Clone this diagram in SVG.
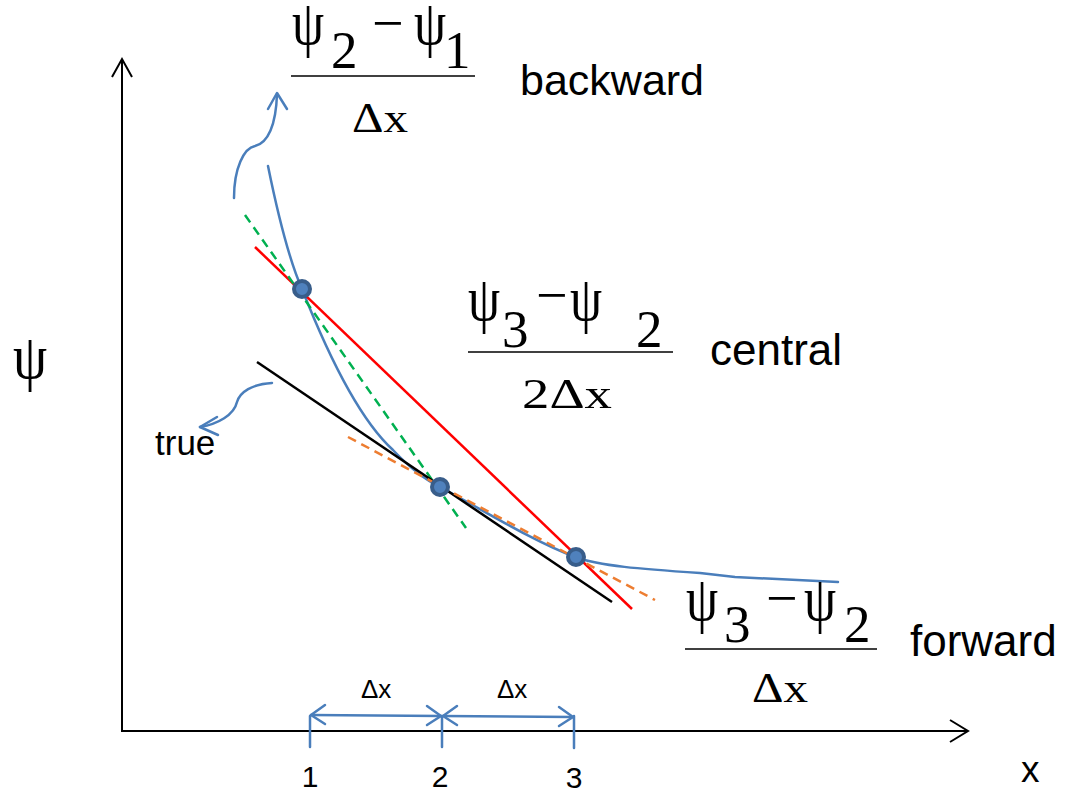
<svg xmlns="http://www.w3.org/2000/svg" width="1065" height="793" viewBox="0 0 1065 793">
<style>
.sans{font-family:"Liberation Sans",Arial,sans-serif;fill:#000}
.serif{font-family:"Liberation Serif","Times New Roman",serif;fill:#000}
.psi{font-family:"Liberation Serif","Times New Roman",serif;font-size:64px}
.dig{font-family:"Liberation Serif","Times New Roman",serif;font-size:53px}
.minus{font-family:"Liberation Serif","Times New Roman",serif;font-size:56px}
.den{font-family:"Liberation Serif","Times New Roman",serif;font-size:43px}
.bar{stroke:#000;stroke-width:1.5;fill:none}
.axis{stroke:#000;stroke-width:2;fill:none}
.blue{stroke:#4a7ebb;stroke-width:2.5;fill:none;stroke-linecap:round;stroke-linejoin:round}
.pt{fill:#4f81bd;stroke:#385d8a;stroke-width:4}
</style>
<rect width="1065" height="793" fill="#fff"/>
<g id="axes">
<line class="axis" x1="122" y1="60" x2="122" y2="731"/>
<polyline class="axis" points="112,77 122,59 132,77"/>
<line class="axis" x1="121" y1="731" x2="968" y2="731"/>
<polyline class="axis" points="950,720 968,731 950,742"/>
<text class="psi" transform="translate(13,378) scale(0.85,1)">ψ</text>
<text class="sans" x="1021" y="782" font-size="37">x</text>
</g>
<g id="curves">
<path class="blue" d="M268,166 C280,225 290,262 302,289 C330,360 360,420 393,450 C410,468 425,480 440,487 C480,508 530,540 575,557 C600,566 640,569 700,573 L735,577 L838,582"/>
<line x1="255" y1="247" x2="632" y2="609" stroke="#ff0000" stroke-width="2.5"/>
<line x1="245" y1="215" x2="466" y2="528" stroke="#00b050" stroke-width="2.5" stroke-dasharray="9,6"/>
<line x1="257" y1="362" x2="612" y2="602" stroke="#000" stroke-width="2.5"/>
<line x1="348" y1="437" x2="655" y2="600" stroke="#ed7d31" stroke-width="2.5" stroke-dasharray="9,6"/>
</g>
<g id="points">
<circle class="pt" cx="302" cy="289" r="8"/>
<circle class="pt" cx="440" cy="487" r="8"/>
<circle class="pt" cx="576" cy="557" r="8"/>
</g>
<g id="connectors">
<path class="blue" d="M234,198 C234,168 244,148 255,146 C268,143 276,125 277,94"/>
<polyline class="blue" points="268,109 277,93 287,109"/>
<path class="blue" d="M272,383 C252,384 240,392 237,402 C234,415 218,424 200,427"/>
<polyline class="blue" points="217,417 200,427 218,435"/>
</g>
<g id="dims">
<line class="blue" x1="310" y1="716" x2="310" y2="747"/>
<line class="blue" x1="442" y1="716" x2="442" y2="747"/>
<line class="blue" x1="574" y1="716" x2="574" y2="748"/>
<line class="blue" x1="311" y1="715" x2="441" y2="716"/>
<polyline class="blue" points="325,705 311,715 325,724"/>
<polyline class="blue" points="427,706 441,716 427,725"/>
<line class="blue" x1="443" y1="716" x2="573" y2="717"/>
<polyline class="blue" points="457,706 443,716 457,725"/>
<polyline class="blue" points="559,707 573,717 559,726"/>
<text class="sans" x="361" y="698" font-size="26">Δx</text>
<text class="sans" x="497" y="698" font-size="26">Δx</text>
<text class="sans" x="310" y="787" font-size="30" text-anchor="middle">1</text>
<text class="sans" x="440" y="787" font-size="30" text-anchor="middle">2</text>
<text class="sans" x="574" y="788" font-size="30" text-anchor="middle">3</text>
</g>
<g id="backward">
<text class="psi" transform="translate(292,44) scale(0.8,1)">ψ</text>
<text class="dig" x="331" y="68">2</text>
<text class="minus" x="372" y="42">−</text>
<text class="psi" transform="translate(414,44) scale(0.8,1)">ψ</text>
<text class="dig" x="444" y="68">1</text>
<line class="bar" x1="291" y1="76" x2="475" y2="76"/>
<text class="den" x="352" y="132" textLength="56" lengthAdjust="spacingAndGlyphs">Δx</text>
<text class="sans" x="520" y="95" font-size="43">backward</text>
</g>
<g id="central">
<text class="psi" transform="translate(468,320) scale(0.8,1)">ψ</text>
<text class="dig" x="502" y="347">3</text>
<text class="minus" x="536" y="314">−</text>
<text class="psi" transform="translate(570,320) scale(0.8,1)">ψ</text>
<text class="dig" x="636" y="347">2</text>
<line class="bar" x1="468" y1="352" x2="673" y2="352"/>
<text class="den" x="522" y="408" textLength="90" lengthAdjust="spacingAndGlyphs">2Δx</text>
<text class="sans" x="710" y="365" font-size="44">central</text>
</g>
<g id="forward">
<text class="psi" transform="translate(686,620) scale(0.8,1)">ψ</text>
<text class="dig" x="724" y="642">3</text>
<text class="minus" x="766" y="617">−</text>
<text class="psi" transform="translate(804,620) scale(0.8,1)">ψ</text>
<text class="dig" x="844" y="642">2</text>
<line class="bar" x1="685" y1="649" x2="877" y2="649"/>
<text class="den" x="752" y="702" textLength="56" lengthAdjust="spacingAndGlyphs">Δx</text>
<text class="sans" x="910" y="656" font-size="44">forward</text>
</g>
<g id="truelabel">
<text class="sans" x="155" y="455" font-size="35">true</text>
</g>
</svg>
